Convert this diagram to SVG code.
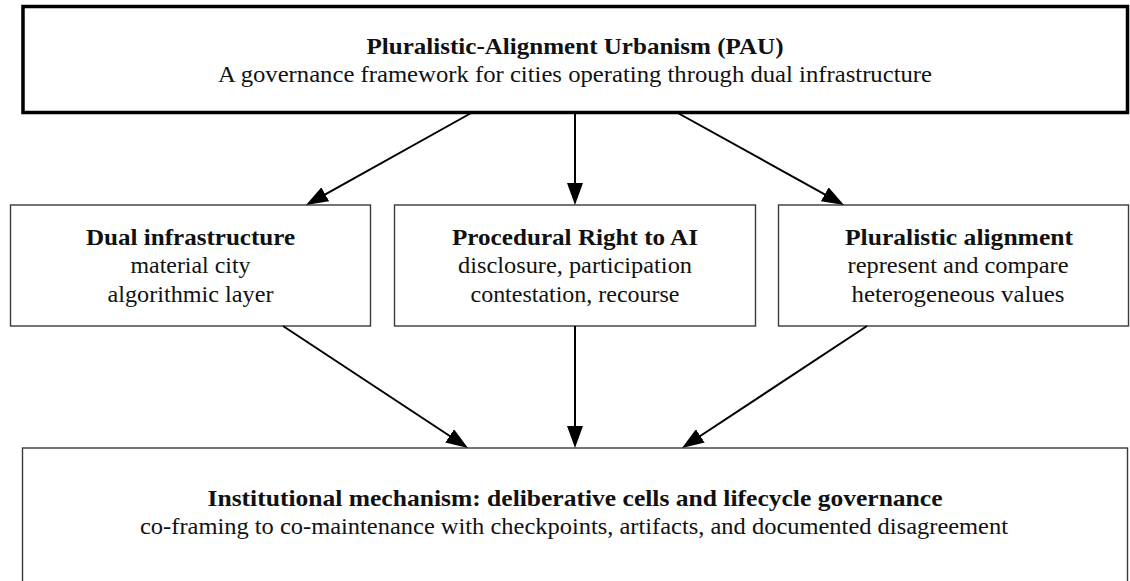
<svg xmlns="http://www.w3.org/2000/svg" width="1130" height="581" viewBox="0 0 1130 581">
  <style>
    .box { fill: #ffffff; stroke: #3a3a3a; stroke-width: 1.4; }
    .main { fill: #ffffff; stroke: #000000; stroke-width: 3.5; }
    text { font-family: "Liberation Serif", "Times New Roman", serif; font-size: 24px; fill: #111111; text-anchor: middle; }
    .b { font-weight: bold; }
    .conn { stroke: #000000; stroke-width: 2; fill: none; }
  </style>
  <defs>
    <marker id="arrow" markerUnits="userSpaceOnUse" markerWidth="22" markerHeight="16" refX="2" refY="8" orient="auto">
      <path d="M0,0 L22,8 L0,16 z" fill="#000000"/>
    </marker>
  </defs>
  <rect width="1130" height="581" fill="#ffffff"/>

  <g id="node-pau">
    <rect class="main" x="23" y="6.5" width="1104.5" height="106"/>
    <text class="b" x="575" y="54" textLength="417" lengthAdjust="spacingAndGlyphs">Pluralistic-Alignment Urbanism (PAU)</text>
    <text x="575" y="82" textLength="714" lengthAdjust="spacingAndGlyphs">A governance framework for cities operating through dual infrastructure</text>
  </g>

  <g id="node-dual">
    <rect class="box" x="10.5" y="205" width="360" height="121"/>
    <text class="b" x="190.5" y="245" textLength="209" lengthAdjust="spacingAndGlyphs">Dual infrastructure</text>
    <text x="190.5" y="273" textLength="120" lengthAdjust="spacingAndGlyphs">material city</text>
    <text x="190.5" y="302" textLength="166" lengthAdjust="spacingAndGlyphs">algorithmic layer</text>
  </g>

  <g id="node-right">
    <rect class="box" x="394.5" y="205" width="361" height="121"/>
    <text class="b" x="575" y="245" textLength="246" lengthAdjust="spacingAndGlyphs">Procedural Right to AI</text>
    <text x="575" y="273" textLength="234" lengthAdjust="spacingAndGlyphs">disclosure, participation</text>
    <text x="575" y="302" textLength="209" lengthAdjust="spacingAndGlyphs">contestation, recourse</text>
  </g>

  <g id="node-pluralistic">
    <rect class="box" x="778.5" y="205" width="350" height="121"/>
    <text class="b" x="959" y="245" textLength="228" lengthAdjust="spacingAndGlyphs">Pluralistic alignment</text>
    <text x="958" y="273" textLength="221" lengthAdjust="spacingAndGlyphs">represent and compare</text>
    <text x="958" y="302" textLength="213" lengthAdjust="spacingAndGlyphs">heterogeneous values</text>
  </g>

  <g id="node-institutional">
    <rect class="box" x="22.5" y="448" width="1105" height="160"/>
    <text class="b" x="575" y="506" textLength="735" lengthAdjust="spacingAndGlyphs">Institutional mechanism: deliberative cells and lifecycle governance</text>
    <text x="574" y="534" textLength="868" lengthAdjust="spacingAndGlyphs">co-framing to co-maintenance with checkpoints, artifacts, and documented disagreement</text>
  </g>

  <g id="connectors">
    <line class="conn" x1="473" y1="112" x2="323.5" y2="195.3" marker-end="url(#arrow)"/>
    <line class="conn" x1="575" y1="112" x2="575" y2="185" marker-end="url(#arrow)"/>
    <line class="conn" x1="676" y1="112" x2="826.5" y2="195.3" marker-end="url(#arrow)"/>
    <line class="conn" x1="283" y1="326" x2="451.3" y2="437" marker-end="url(#arrow)"/>
    <line class="conn" x1="575" y1="326" x2="575" y2="428" marker-end="url(#arrow)"/>
    <line class="conn" x1="867" y1="326" x2="698.7" y2="437" marker-end="url(#arrow)"/>
  </g>
</svg>
